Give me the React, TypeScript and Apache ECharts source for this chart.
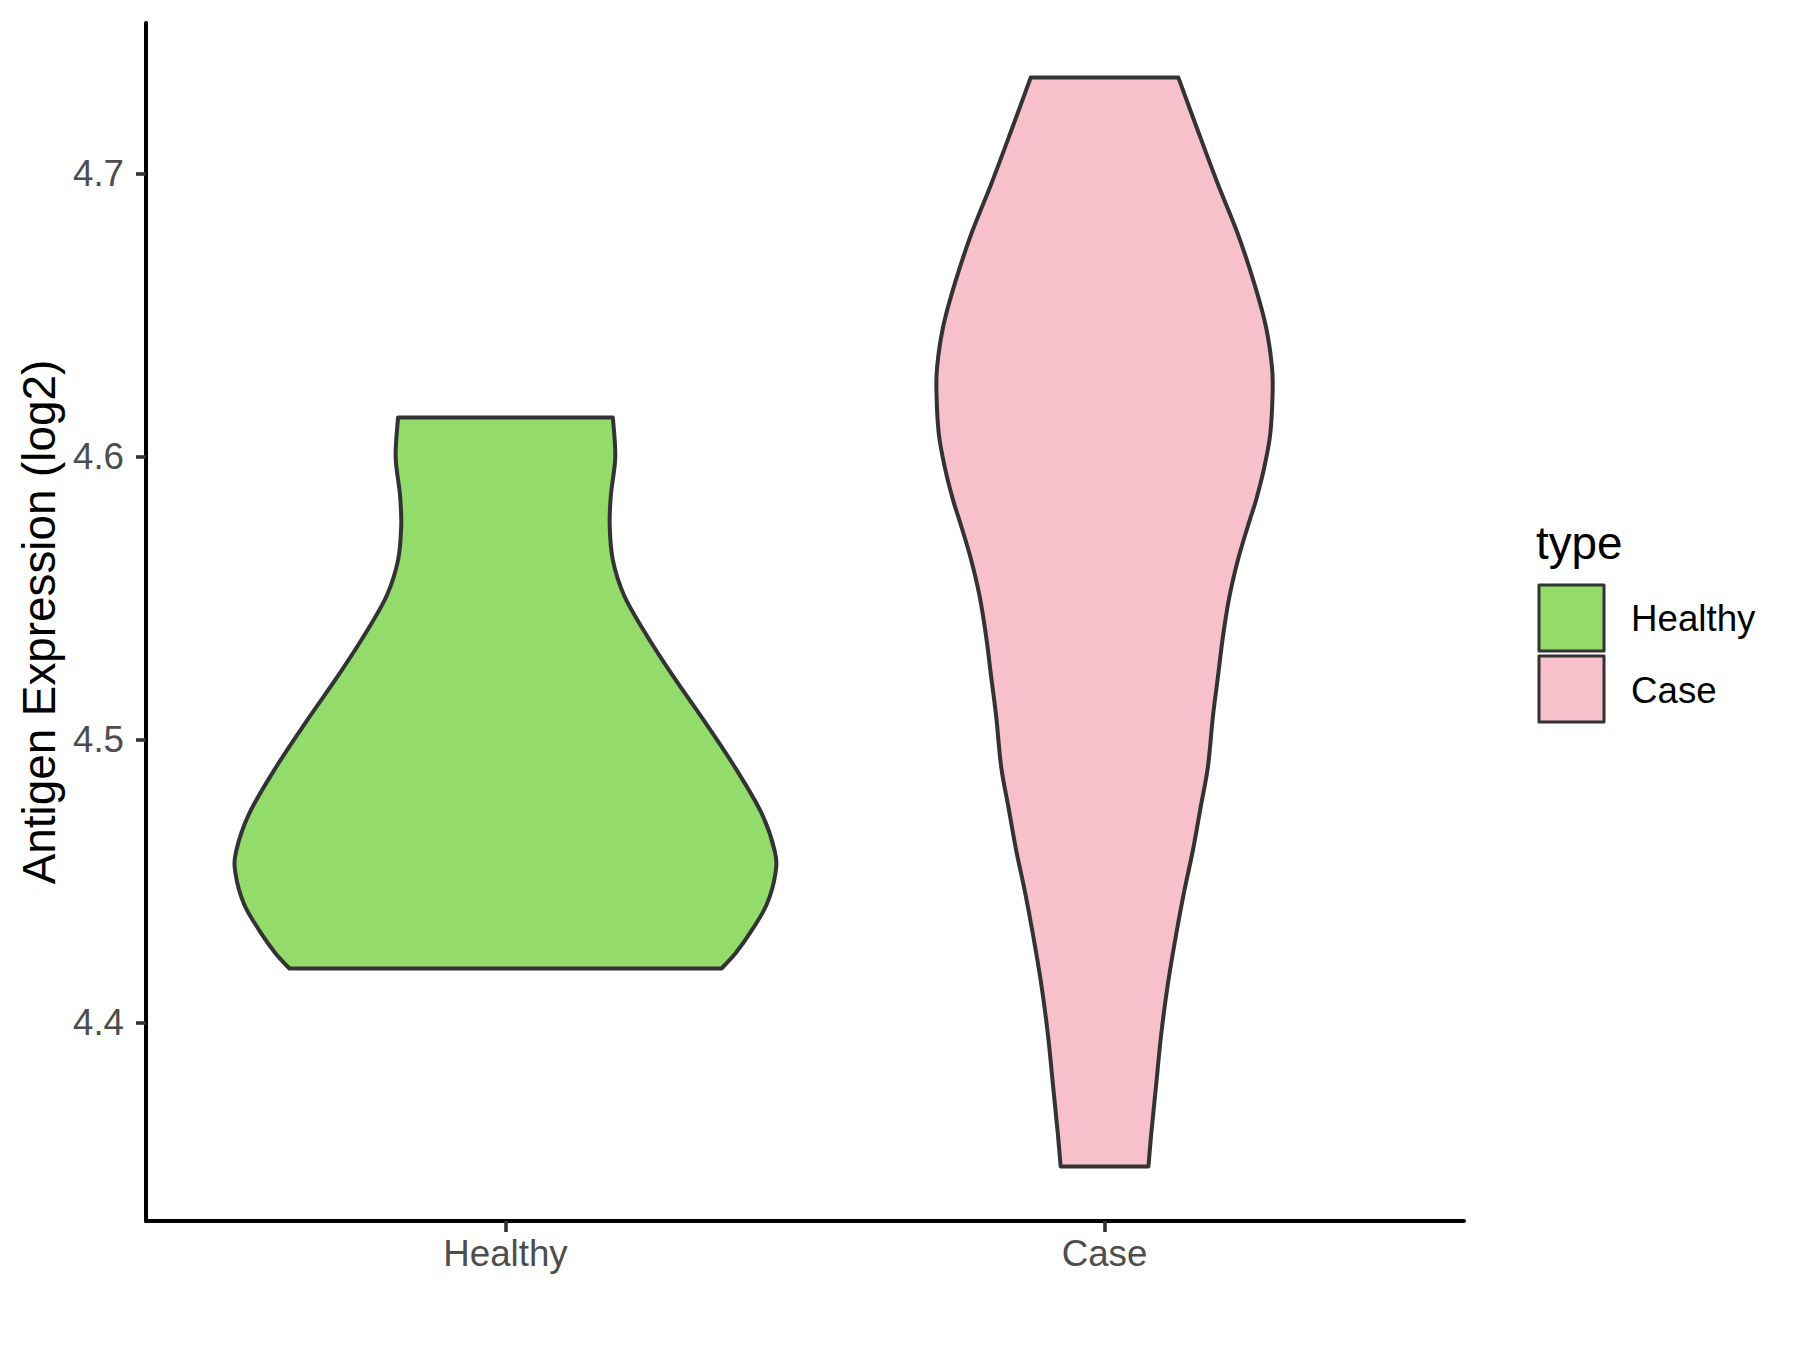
import React, { useEffect, useRef } from "react";
import * as echarts from "echarts";

const categories = ["Healthy", "Case"];
const yTicks = [4.4, 4.5, 4.6, 4.7];
const fillColors = ["#93DB6A", "#F7C0CB"];

// violin profiles: expression value (top → bottom) and half width in category units
const healthyValues = [4.6137, 4.5998, 4.5863, 4.5755, 4.5633, 4.5511, 4.5389, 4.5241, 4.5065, 4.4903, 4.474, 4.4605, 4.4524, 4.4416, 4.4325, 4.4244, 4.419];
const healthyHalfWidth = [0.1793, 0.1833, 0.176, 0.174, 0.1793, 0.1975, 0.2295, 0.2742, 0.3317, 0.3825, 0.4272, 0.4495, 0.4505, 0.436, 0.411, 0.384, 0.3605];

const caseValues = [4.7338, 4.7152, 4.6964, 4.6787, 4.661, 4.6457, 4.6316, 4.6222, 4.608, 4.5962, 4.5845, 4.5762, 4.5633, 4.5503, 4.5361, 4.522, 4.5079, 4.4902, 4.4761, 4.4608, 4.4466, 4.4313, 4.4137, 4.396, 4.3783, 4.3607, 4.3491];
const caseHalfWidth = [0.1233, 0.1555, 0.1888, 0.2222, 0.25, 0.2695, 0.2795, 0.2805, 0.2767, 0.2667, 0.2528, 0.2405, 0.2225, 0.2083, 0.1975, 0.1892, 0.1808, 0.1725, 0.1605, 0.1475, 0.1333, 0.1197, 0.1058, 0.0947, 0.0863, 0.078, 0.0733];

const profiles = [
  { values: healthyValues, hw: healthyHalfWidth },
  { values: caseValues, hw: caseHalfWidth },
];

const FONT = "'Liberation Sans', Arial, Helvetica, sans-serif";

function fmt(p: number[]) {
  return p[0].toFixed(2) + " " + p[1].toFixed(2);
}

function curveThrough(pts: number[][]): string {
  let d = "";
  const n = pts.length;
  for (let i = 0; i < n - 1; i++) {
    const p0 = pts[Math.max(i - 1, 0)];
    const p1 = pts[i];
    const p2 = pts[i + 1];
    const p3 = pts[Math.min(i + 2, n - 1)];
    const c1 = [p1[0] + (p2[0] - p0[0]) / 6, p1[1] + (p2[1] - p0[1]) / 6];
    const c2 = [p2[0] - (p3[0] - p1[0]) / 6, p2[1] - (p3[1] - p1[1]) / 6];
    d += " C " + fmt(c1) + " " + fmt(c2) + " " + fmt(p2);
  }
  return d;
}

export default function App() {
  const ref = useRef<HTMLDivElement>(null);

  useEffect(() => {
    document.body.style.margin = "0";
    const chart = echarts.init(ref.current!, null, { renderer: "svg" });

    const renderItem = (params: any, api: any) => {
      const pos = api.value(0);
      const prof = profiles[pos - 1];
      const left = prof.values.map((v, i) => api.coord([pos - prof.hw[i], v]));
      const right = prof.values.map((v, i) => api.coord([pos + prof.hw[i], v])).reverse();
      const d =
        "M " + fmt(left[0]) + curveThrough(left) + " L " + fmt(right[0]) + curveThrough(right) + " Z";
      return {
        type: "path",
        shape: { pathData: d },
        style: {
          fill: fillColors[pos - 1],
          stroke: "#333333",
          lineWidth: 4,
          lineJoin: "round",
        },
      };
    };

    chart.setOption({
      animation: false,
      backgroundColor: "#FFFFFF",
      grid: { left: 146, top: 23, right: 336, bottom: 129 },
      xAxis: {
        type: "value",
        min: 0.4,
        max: 2.6,
        splitLine: { show: false },
        axisLine: { show: true, onZero: false, lineStyle: { color: "#000000", width: 4 } },
        axisTick: { show: true, customValues: [1, 2], length: 11, lineStyle: { color: "#333333", width: 3.6 } },
        axisLabel: {
          customValues: [1, 2],
          formatter: (v: number) => categories[Math.round(v) - 1] ?? "",
          color: "#4D4D4D",
          fontSize: 36.7,
          fontFamily: FONT,
          margin: 14,
        },
      },
      yAxis: {
        type: "value",
        min: 4.3298,
        max: 4.7531,
        splitLine: { show: false },
        axisLine: { show: true, onZero: false, lineStyle: { color: "#000000", width: 4 } },
        axisTick: { show: true, customValues: yTicks, length: 10, lineStyle: { color: "#333333", width: 3.6 } },
        axisLabel: {
          customValues: yTicks,
          formatter: (v: number) => v.toFixed(1),
          color: "#4D4D4D",
          fontSize: 36.7,
          fontFamily: FONT,
          margin: 22,
        },
        name: "Antigen Expression (log2)",
        nameLocation: "middle",
        nameGap: 80,
        nameTextStyle: { color: "#000000", fontSize: 45.8, fontFamily: FONT },
      },
      series: [
        {
          type: "custom",
          renderItem,
          data: categories.map((_, i) => [i + 1]),
          encode: { x: 0 },
          clip: false,
        },
      ],
      graphic: [
        {
          type: "text",
          x: 1536,
          y: 543,
          style: { text: "type", font: "45.8px " + FONT, fill: "#000000", verticalAlign: "middle", align: "left" },
        },
        {
          type: "rect",
          shape: { x: 1539, y: 585, width: 65, height: 66 },
          style: { fill: fillColors[0], stroke: "#333333", lineWidth: 3, lineJoin: "round" },
        },
        {
          type: "rect",
          shape: { x: 1539, y: 656, width: 65, height: 66 },
          style: { fill: fillColors[1], stroke: "#333333", lineWidth: 3, lineJoin: "round" },
        },
        {
          type: "text",
          x: 1631,
          y: 618,
          style: { text: categories[0], font: "36.7px " + FONT, fill: "#000000", verticalAlign: "middle", align: "left" },
        },
        {
          type: "text",
          x: 1631,
          y: 690,
          style: { text: categories[1], font: "36.7px " + FONT, fill: "#000000", verticalAlign: "middle", align: "left" },
        },
      ],
    });

    return () => chart.dispose();
  }, []);

  return <div ref={ref} style={{ width: 1800, height: 1350 }} />;
}
